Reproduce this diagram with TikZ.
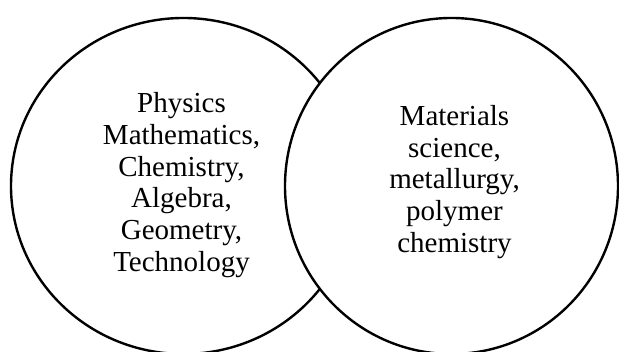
\documentclass[tikz,border=0pt]{standalone}
\usepackage{fontspec}
\setmainfont{Liberation Serif}
\usepackage{tikz}
\usetikzlibrary{positioning}

\begin{document}
\begin{tikzpicture}[x=1pt,y=1pt]
  % Parameters
  \def\W{619}         % picture width
  \def\H{352}         % picture height
  \def\ax{183.5}      % centre x of left ellipse
  \def\bx{451.5}      % centre x of right ellipse
  \def\cy{166}        % common centre y
  \def\ra{172.5}      % x radius of left ellipse
  \def\rb{166.5}      % x radius of right ellipse
  \def\ry{168}        % y radius of both

  \tikzset{
    venntext/.style={align=center, inner sep=0pt,
      font=\fontsize{29}{31.7}\selectfont}
  }

  \useasboundingbox (0,0) rectangle (\W,\H);

  % Draw the two sets
  \draw[line width=2.4pt] (\ax,\cy) ellipse ({\ra} and {\ry});          % left set
  \draw[line width=2.4pt, fill=white] (\bx,\cy) ellipse ({\rb} and {\ry}); % right set

  % Labels
  \node[venntext] (science) at ({\ax-2},{\cy+1}) {Physics\\Mathematics,\\Chemistry,\\Algebra,\\Geometry,\\Technology};
  \node[venntext] (materials) at ({\bx+3},{\cy+4}) {Materials\\science,\\metallurgy,\\polymer\\chemistry};

\end{tikzpicture}
\end{document}
